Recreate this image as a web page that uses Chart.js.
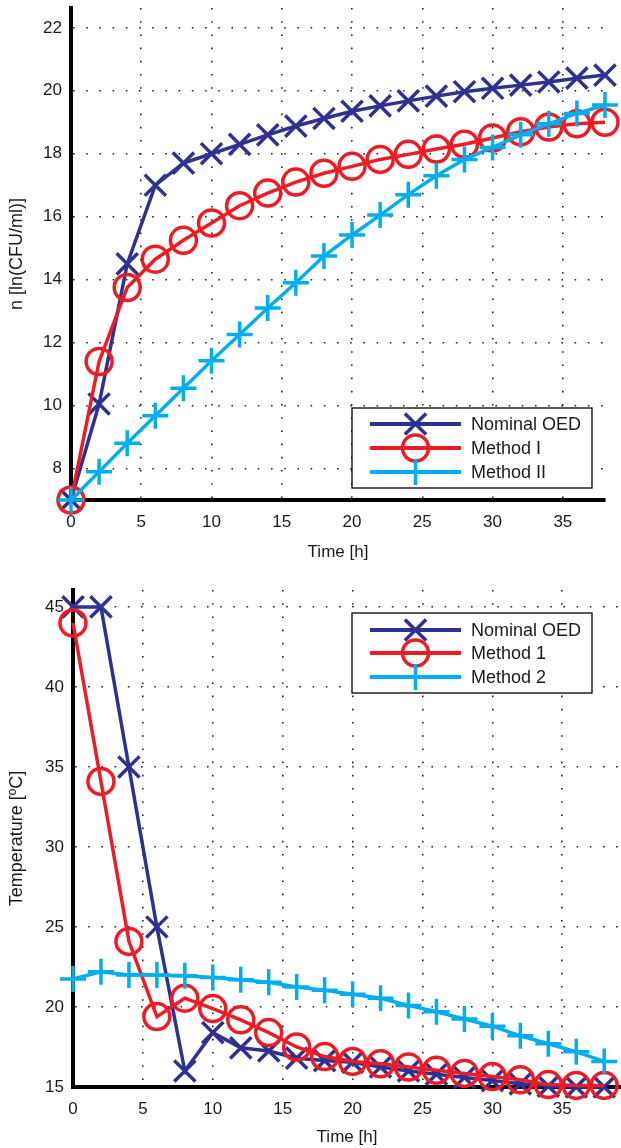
<!DOCTYPE html>
<html lang="en">
<head>
  <meta charset="UTF-8">
  <title>Nominal OED vs Method I / II</title>
  <script src="https://cdn.jsdelivr.net/npm/chart.js"></script>
  <style>
    body { margin: 0; background: #fff; }
    .wrap { position: relative; width: 621px; height: 1148px; overflow: hidden; }
    .box { position: absolute; left: 0; width: 621px; }
    #box-top { top: 0; height: 565px; }
    #box-bot { top: 575px; height: 573px; }
  </style>
</head>
<body>
  <div class="wrap">
    <div class="box" id="box-top"><canvas id="chart-n"></canvas></div>
    <div class="box" id="box-bot"><canvas id="chart-temp"></canvas></div>
  </div>

  <script>
    // data (time in hours)
    const time = [0, 2, 4, 6, 8, 10, 12, 14, 16, 18, 20, 22, 24, 26, 28, 30, 32, 34, 36, 38];

    const nNominal = [7.0, 10.05, 14.5, 17.0, 17.7, 18.0, 18.3, 18.6, 18.88, 19.12, 19.35, 19.52, 19.68, 19.83, 19.97, 20.08, 20.18, 20.28, 20.4, 20.5];
    const nMethod1 = [7.0, 11.4, 13.75, 14.65, 15.25, 15.8, 16.35, 16.75, 17.1, 17.38, 17.6, 17.82, 17.98, 18.15, 18.3, 18.5, 18.7, 18.85, 18.95, 19.0];
    const nMethod2 = [7.0, 7.9, 8.8, 9.68, 10.55, 11.42, 12.26, 13.1, 13.9, 14.75, 15.42, 16.05, 16.7, 17.3, 17.82, 18.2, 18.6, 18.95, 19.28, 19.55];

    const tempNominal = [45, 45, 35, 25, 16.0, 18.4, 17.45, 17.25, 16.8, 16.65, 16.55, 16.25, 16.0, 15.8, 15.6, 15.4, 15.2, 15.05, 15.0, 15.0];
    const tempMethod1 = [44, 34.1, 24.1, 19.4, 20.55, 19.9, 19.2, 18.4, 17.5, 16.9, 16.6, 16.45, 16.25, 16.05, 15.85, 15.65, 15.45, 15.15, 15.1, 15.1];
    const tempMethod2 = [21.75, 22.2, 22.0, 22.0, 21.95, 21.85, 21.7, 21.55, 21.25, 21.05, 20.8, 20.55, 20.1, 19.7, 19.25, 18.8, 18.2, 17.7, 17.2, 16.6];

    const namesTop = ['Nominal OED', 'Method I', 'Method II'];
    const namesBottom = ['Nominal OED', 'Method 1', 'Method 2'];

    const ticksX = [0, 5, 10, 15, 20, 25, 30, 35];
    const ticksN = [8, 10, 12, 14, 16, 18, 20, 22];
    const ticksTemp = [15, 20, 25, 30, 35, 40, 45];

    const FONT = '"Liberation Sans", Arial, Helvetica, sans-serif';
    const TXT = '#1a1a1a';
    const BLUE = '#2e3192', RED = '#ed1c24', CYAN = '#00aeef';

    // legend drawn MATLAB style: line with the marker sitting in the middle
    const matlabLegend = {
      id: 'matlabLegend',
      afterDatasetsDraw(chart, args, o) {
        const ctx = chart.ctx;
        ctx.save();
        ctx.fillStyle = '#fff';
        ctx.fillRect(o.x, o.y, o.w, o.h);
        ctx.strokeStyle = '#000';
        ctx.lineWidth = 1.3;
        ctx.strokeRect(o.x, o.y, o.w, o.h);
        chart.data.datasets.forEach((ds, i) => {
          const yy = o.rows[i];
          ctx.strokeStyle = ds.borderColor;
          ctx.lineWidth = 4;
          ctx.beginPath();
          ctx.moveTo(o.x1, yy);
          ctx.lineTo(o.x2, yy);
          ctx.stroke();
          ctx.fillStyle = 'rgba(0,0,0,0)';
          ctx.lineWidth = ds.pointBorderWidth;
          Chart.helpers.drawPoint(ctx, {
            pointStyle: ds.pointStyle, radius: ds.pointRadius,
            borderWidth: ds.pointBorderWidth, rotation: 0
          }, (o.x1 + o.x2) / 2, yy);
          ctx.fillStyle = TXT;
          ctx.font = '18px ' + FONT;
          ctx.textBaseline = 'middle';
          ctx.fillText(ds.label, o.tx, yy + 1);
        });
        ctx.restore();
      }
    };

    function series(ys, label, color, style, radius, order) {
      return {
        label,
        data: time.map((t, i) => ({ x: t, y: ys[i] })),
        borderColor: color,
        borderWidth: 3.5,
        pointStyle: style,
        pointRadius: radius,
        pointHoverRadius: radius,
        pointBorderColor: color,
        pointBackgroundColor: 'rgba(0,0,0,0)',
        pointBorderWidth: 3.5,
        tension: 0,
        clip: false,
        order
      };
    }

    // the scales ask for room for their end labels; the plot box is fixed here instead
    function noPad(s) {
      s.paddingLeft = 0; s.paddingRight = 0; s.paddingTop = 0; s.paddingBottom = 0;
    }

    function xScale(max, height, titlePad) {
      return {
        type: 'linear', min: 0, max,
        afterBuildTicks: s => { s.ticks = ticksX.map(v => ({ value: v })); },
        afterFit: s => { s.height = height; noPad(s); },
        grid: { color: '#222', lineWidth: 1.6, drawTicks: false },
        border: { display: true, color: '#000', width: 4, dash: [1.6, 11.6] },
        ticks: { color: TXT, font: { size: 17, family: FONT }, padding: 12, autoSkip: false, maxRotation: 0 },
        title: { display: true, text: 'Time [h]', color: TXT, font: { size: 17, family: FONT }, padding: { top: 0, bottom: titlePad } }
      };
    }

    function yScale(min, max, ticks, title, width) {
      return {
        type: 'linear', min, max,
        afterBuildTicks: s => { s.ticks = ticks.map(v => ({ value: v })); },
        afterFit: s => { s.width = width; noPad(s); },
        grid: { color: '#222', lineWidth: 1.6, drawTicks: false },
        border: { display: true, color: '#000', width: 4, dash: [1.6, 11.6] },
        ticks: { color: TXT, font: { size: 17, family: FONT }, padding: 9, autoSkip: false },
        title: { display: true, text: title, color: TXT, font: { size: 18, family: FONT }, padding: { top: 6, bottom: 0 } }
      };
    }

    new Chart(document.getElementById('chart-n'), {
      type: 'line',
      data: {
        datasets: [
          series(nNominal, namesTop[0], BLUE, 'crossRot', 15, 2),
          series(nMethod1, namesTop[1], RED, 'circle', 13, 1),
          series(nMethod2, namesTop[2], CYAN, 'cross', 13, 0)
        ]
      },
      options: {
        responsive: true,
        maintainAspectRatio: false,
        animation: false,
        layout: { autoPadding: false, padding: { top: 8, right: 16, left: 0, bottom: 0 } },
        scales: {
          x: xScale(38, 65, 2),
          y: yScale(7, 22.63, ticksN, 'n [ln(CFU/ml)]', 71)
        },
        plugins: {
          legend: { display: false },
          tooltip: { enabled: false },
          matlabLegend: { x: 352, y: 408, w: 240, h: 80, rows: [424, 448, 472], x1: 370, x2: 461, tx: 471 }
        }
      },
      plugins: [matlabLegend]
    });

    new Chart(document.getElementById('chart-temp'), {
      type: 'line',
      data: {
        datasets: [
          series(tempNominal, namesBottom[0], BLUE, 'crossRot', 15, 2),
          series(tempMethod1, namesBottom[1], RED, 'circle', 13, 1),
          series(tempMethod2, namesBottom[2], CYAN, 'cross', 13, 0)
        ]
      },
      options: {
        responsive: true,
        maintainAspectRatio: false,
        animation: false,
        layout: { autoPadding: false, padding: { top: 15, right: 0, left: 0, bottom: 0 } },
        scales: {
          x: xScale(39.2, 61, 0),
          y: yScale(15, 46.06, ticksTemp, 'Temperature [ºC]', 73)
        },
        plugins: {
          legend: { display: false },
          tooltip: { enabled: false },
          matlabLegend: { x: 352, y: 38, w: 240, h: 80, rows: [55, 78, 102], x1: 370, x2: 461, tx: 471 }
        }
      },
      plugins: [matlabLegend]
    });
  </script>
</body>
</html>
